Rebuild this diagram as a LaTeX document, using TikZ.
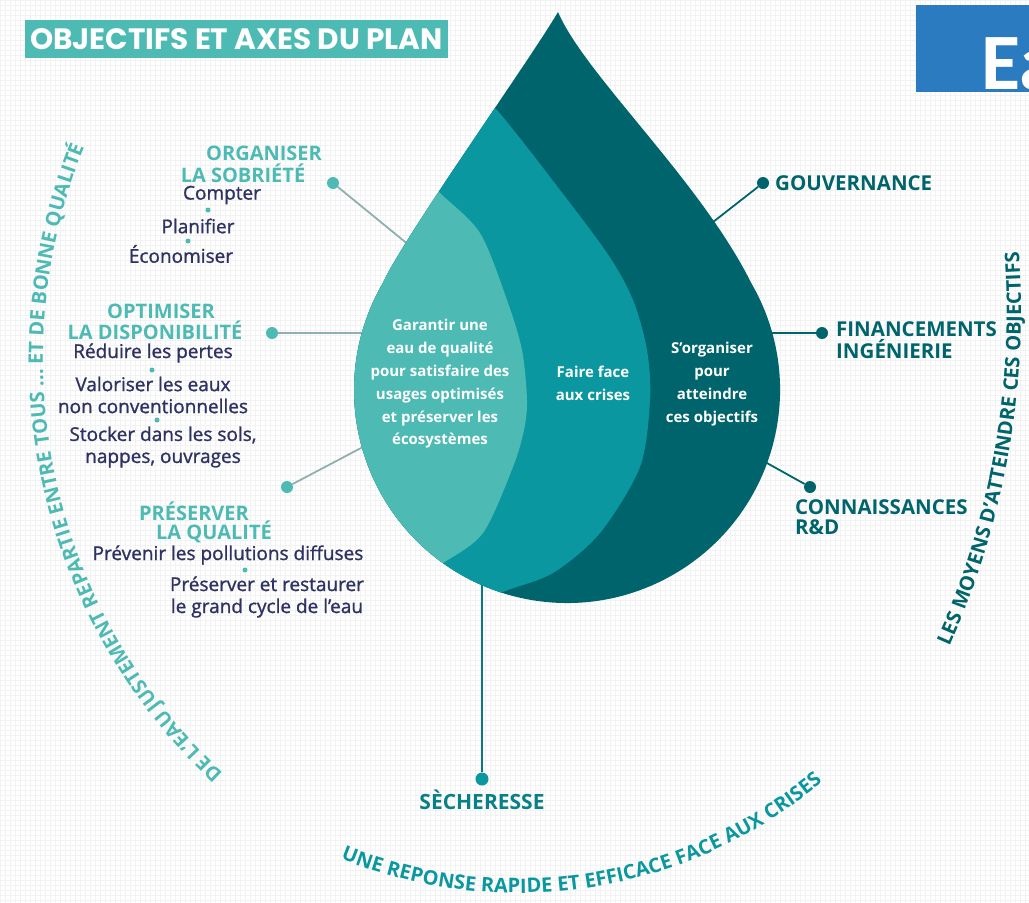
\documentclass[tikz,border=0pt]{standalone}
\usepackage{fontspec}
\setmainfont{Open Sans}
\newfontfamily\titlefont{Poppins}
\newfontfamily\eafont{Carlito}
\newfontfamily\itemfont[FakeBold=1.2]{Open Sans}
\usetikzlibrary{decorations.text}
\definecolor{lightteal}{HTML}{4DBAB4}
\definecolor{midteal}{HTML}{0A979F}
\definecolor{darkteal}{HTML}{00646C}
\definecolor{navy}{HTML}{2E3262}
\definecolor{boxblue}{HTML}{2A7BBF}
\definecolor{linegray}{HTML}{8FAFB0}
\tikzset{
  head/.style={text=lightteal, font=\fontsize{20}{22}\selectfont\bfseries, inner sep=0pt},
  item/.style={text=navy, font=\itemfont\fontsize{19}{22}\selectfont, align=center, inner sep=0pt},
  inside/.style={text=white, font=\fontsize{15}{22.8}\selectfont\bfseries, align=center, inner sep=0pt},
  means/.style={text=darkteal, font=\fontsize{20.5}{22}\selectfont\bfseries, align=left, anchor=west, inner sep=0pt},
  dotL/.style={circle, fill=lightteal, inner sep=0pt, minimum size=12pt},
  dotM/.style={circle, fill=midteal, inner sep=0pt, minimum size=13pt},
  dotD/.style={circle, fill=darkteal, inner sep=0pt, minimum size=12pt},
  tiny/.style={circle, fill=lightteal, inner sep=0pt, minimum size=5pt},
  linkL/.style={draw=linegray, line width=1.8pt},
  linkM/.style={draw=midteal!80!black, line width=2pt},
  linkD/.style={draw=darkteal, line width=1.8pt},
}
\newcommand{\dropoutline}{(558,-12) .. controls (585,-75) and (700,-180) .. (751.5,-283.5)
  arc[start angle=30, end angle=-210, radius=213]
  .. controls (405,-235) and (530,-60) .. (558,-12) -- cycle}

\begin{document}
\begin{tikzpicture}[x=1pt, y=1pt]
  \useasboundingbox (0,0) rectangle (1029,-903);
  \draw[step=5pt, black!5, line width=0.25pt] (0,-903) grid (1029,0);

  % title
  \node (title) [fill=lightteal, text=white, minimum width=423pt, minimum height=38pt,
    font=\titlefont\fontsize{29.5}{30}\selectfont\bfseries] at (236.5,-39) {OBJECTIFS ET AXES DU PLAN};

  % blue box cut by the border
  \begin{scope}
    \clip (0,0) rectangle (1029,-903);
    \fill[boxblue] (916,-5) rectangle (1040,-92);
    \node (ea) [anchor=base west, inner sep=0pt, text=white,
      font=\eafont\fontsize{80}{80}\selectfont\bfseries] at (981,-89) {Ea};
  \end{scope}

  % connectors (drawn below the drop)
  \node (orgdot) [dotL] at (333,-183) {};
  \node (optdot) [dotL] at (272,-333) {};
  \node (presdot) [dotL] at (287,-487) {};
  \node (secdot) [dotM] at (482,-779) {};
  \node (gouvdot) [dotD] at (763,-183) {};
  \node (findot) [dotD] at (822,-333) {};
  \node (condot) [dotD] at (810,-487) {};
  \coordinate (orgend) at (415,-250);
  \coordinate (optend) at (375,-333);
  \coordinate (presend) at (380,-438);
  \coordinate (secend) at (482,-570);
  \coordinate (gouvend) at (690,-240);
  \coordinate (finend) at (760,-333);
  \coordinate (conend) at (740,-448);
  \draw[linkL] (orgdot) -- (orgend);
  \draw[linkL] (optdot) -- (optend);
  \draw[linkL] (presdot) -- (presend);
  \draw[linkM] (secdot) -- (secend);
  \draw[linkD] (gouvdot) -- (gouvend);
  \draw[linkD] (findot) -- (finend);
  \draw[linkD] (condot) -- (conend);

  % the drop, three bands
  \fill[darkteal] \dropoutline;
  \begin{scope}
    \clip \dropoutline;
    \fill[midteal] plot[smooth] coordinates {(480,-92) (503,-117) (547,-173) (607,-253) (633,-300)
      (647,-350) (650,-400) (640,-467) (600,-533) (553,-573) (503,-592) (470,-610)}
      -- (300,-640) -- (300,-60) -- cycle;
    \fill[lightteal] plot[smooth] coordinates {(420,-172) (440,-193) (480,-233) (507,-300) (522,-350)
      (527,-400) (524,-430) (513,-467) (483,-533) (443,-563) (420,-575)}
      -- (300,-600) -- (300,-150) -- cycle;
  \end{scope}

  \node (garantir) [inside] at (440,-384) {Garantir une\\eau de qualité\\pour satisfaire des\\usages optimisés\\et préserver les\\écosystèmes};
  \node (crises) [inside] at (593,-383) {Faire face\\aux crises};
  \node (sorg) [inside] at (712,-384) {S’organiser\\pour\\atteindre\\ces objectifs};

  % left: objectives
  \node (orgA) [head] at (264,-153) {ORGANISER};
  \node (orgB) [head] at (243,-173) {LA SOBRIÉTÉ};
  \node (compter) [item] at (222,-195) {Compter};
  \node (t1) [tiny] at (208,-210) {};
  \node (planif) [item] at (198,-226) {Planifier};
  \node (t2) [tiny] at (188,-241) {};
  \node (econ) [item] at (181,-254) {Économiser};

  \node (optA) [head] at (161,-311) {OPTIMISER};
  \node (optB) [head] at (155,-330) {LA DISPONIBILITÉ};
  \node (reduire) [item] at (153,-353) {Réduire les pertes};
  \node (t3) [tiny] at (152,-370) {};
  \node (valor) [item] at (153,-395) {Valoriser les eaux\\non conventionnelles};
  \node (t4) [tiny] at (157,-420) {};
  \node (stock) [item] at (163,-447) {Stocker dans les sols,\\nappes, ouvrages};

  \node (presA) [head] at (194,-511) {PRÉSERVER};
  \node (presB) [head] at (214,-532) {LA QUALITÉ};
  \node (prev) [item] at (228,-555) {Prévenir les pollutions diffuses};
  \node (t5) [tiny] at (245,-570) {};
  \node (restaur) [item] at (267,-597) {Préserver et restaurer\\le grand cycle de l’eau};

  % right: means
  \node (gouv) [means] at (775,-183) {GOUVERNANCE};
  \node (fin) [means] at (836,-340) {FINANCEMENTS\\INGÉNIERIE};
  \node (conn) [means, font=\fontsize{20.5}{20}\selectfont\bfseries] at (795,-517) {CONNAISSANCES\\R\&D};

  % bottom: crisis
  \node (sech) [text=midteal!85!black, font=\fontsize{21}{21}\selectfont\bfseries, inner sep=0pt] at (482,-800) {SÈCHERESSE};

  % curved texts
  \path[decorate, decoration={text along path, text align=center,
    text={|\fontsize{20}{20}\selectfont\bfseries\color{lightteal}|DE L’EAU JUSTEMENT REPARTIE ENTRE TOUS ... ET DE BONNE QUALITÉ}}]
    (609,-359) ++(240:566) arc[start angle=240, end angle=145, radius=566];
  \path[decorate, decoration={text along path, text align=center,
    text={|\fontsize{20}{20}\selectfont\bfseries\color{darkteal}|LES MOYENS D’ATTEINDRE CES OBJECTIFS}}]
    (200,-311) ++(-30:821) arc[start angle=-30, end angle=10, radius=821];
  \path[decorate, decoration={text along path, text align=center,
    text={|\fontsize{20}{20}\selectfont\bfseries\color{midteal}|UNE REPONSE RAPIDE ET EFFICACE FACE AUX CRISES}}]
    (518,-420) ++(238:473) arc[start angle=238, end angle=320, radius=473];
\end{tikzpicture}
\end{document}
